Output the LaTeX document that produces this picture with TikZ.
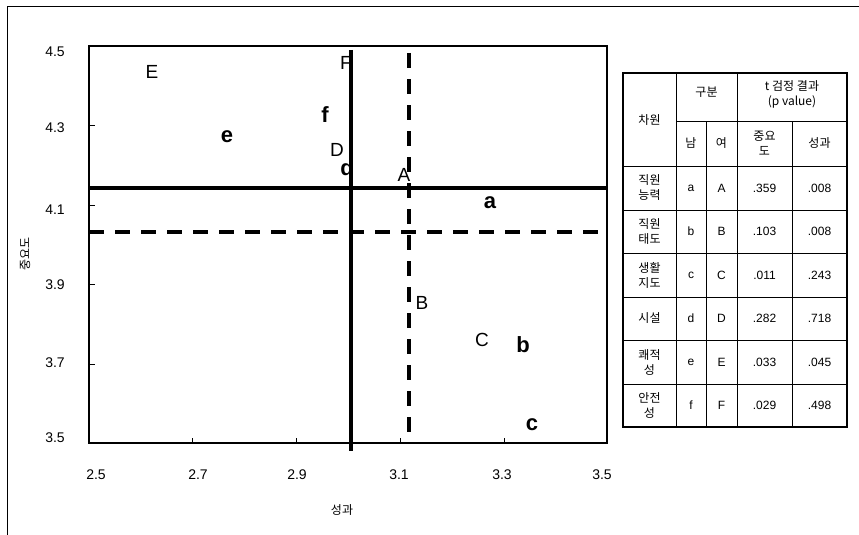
\documentclass[tikz,border=0pt]{standalone}
\usepackage{fontspec}
\setmainfont{Liberation Sans}
\newfontfamily\kr{Noto Sans CJK KR}
\usepackage{xcolor}
\usepackage{tikz}

\tikzset{
	ptup/.style={inner sep=0pt, font=\fontsize{19}{19}\selectfont},
	ptlow/.style={inner sep=0pt, font=\fontsize{22}{22}\selectfont\bfseries},
	ticklbl/.style={inner sep=0pt, font=\fontsize{14}{14}\selectfont},
	cell/.style={inner sep=0pt, align=center, font=\fontsize{12}{14}\selectfont},
	krcell/.style={inner sep=0pt, align=center, font=\kr\fontsize{12}{15}\selectfont},
	refline/.style={draw=black, line width=4pt},
	refdash/.style={draw=black, line width=4pt, dash pattern=on 15pt off 11pt},
}

\begin{document}
\begin{tikzpicture}[x=1pt, y=-1pt]
	\useasboundingbox (0,0) rectangle (859,535);
	\draw[draw=black, thin, solid] (7,535) -- (7,6) -- (859,6);
	% plot frame and ticks
	\draw[draw=black, line width=1.5pt, solid] (89,46) rectangle (607,443);
	\draw[draw=black, thin, solid] (89,125) -- (95,125);
	\draw[draw=black, thin, solid] (89,205) -- (95,205);
	\draw[draw=black, thin, solid] (89,284) -- (95,284);
	\draw[draw=black, thin, solid] (89,364) -- (95,364);
	\draw[draw=black, thin, solid] (192,443) -- (192,438);
	\draw[draw=black, thin, solid] (296,443) -- (296,438);
	\draw[draw=black, thin, solid] (400,443) -- (400,438);
	\draw[draw=black, thin, solid] (504,443) -- (504,438);
	\node[ticklbl] (y45) at (55,52) {4.5};
	\node[ticklbl] (y43) at (55,128) {4.3};
	\node[ticklbl] (y41) at (55,210) {4.1};
	\node[ticklbl] (y39) at (55,285) {3.9};
	\node[ticklbl] (y37) at (55,363) {3.7};
	\node[ticklbl] (y35) at (55,438) {3.5};
	\node[ticklbl] (x25) at (96,475) {2.5};
	\node[ticklbl] (x27) at (198,475) {2.7};
	\node[ticklbl] (x29) at (297,475) {2.9};
	\node[ticklbl] (x31) at (399,475) {3.1};
	\node[ticklbl] (x33) at (502,475) {3.3};
	\node[ticklbl] (x35) at (602,475) {3.5};
	\node[krcell] (xtitle) at (342,510) {성과};
	\node[krcell, rotate=90] (ytitle) at (25,254) {중요도};
	% points
	\node[ptup] (pE) at (152,72) {E};
	\node[ptlow] (pe) at (227,137) {e};
	\node[ptup] (pF) at (346,63) {F};
	\node[ptlow] (pf) at (325,115) {f};
	\node[ptup] (pD) at (337,150) {D};
	\node[ptlow] (pd) at (347,168) {d};
	\node[ptup] (pA) at (404,175) {A};
	\node[ptlow] (pa) at (490,203) {a};
	\node[ptup] (pB) at (422,303) {B};
	\node[ptup] (pC) at (482,340) {C};
	\node[ptlow] (pb) at (523,345) {b};
	\node[ptlow] (pc) at (532,425) {c};
	% mean lines
	\draw[refline] (351,50) -- (351,451);
	\draw[refline] (89,188) -- (608,188);
	\draw[refdash] (409,53) -- (409,437);
	\draw[refdash] (89,232) -- (600,232);
	% table
	\draw[draw=black, line width=1.5pt, solid] (623,73) rectangle (847,427);
	\draw[draw=black, thin, solid] (676,73) -- (676,427);
	\draw[draw=black, thin, solid] (737,73) -- (737,427);
	\draw[draw=black, thin, solid] (706,121) -- (706,427);
	\draw[draw=black, thin, solid] (792,121) -- (792,427);
	\draw[draw=black, thin, solid] (676,121) -- (847,121);
	\draw[draw=black, thin, solid] (623,166) -- (847,166);
	\draw[draw=black, thin, solid] (623,210) -- (847,210);
	\draw[draw=black, thin, solid] (623,253) -- (847,253);
	\draw[draw=black, thin, solid] (623,297) -- (847,297);
	\draw[draw=black, thin, solid] (623,340) -- (847,340);
	\draw[draw=black, thin, solid] (623,384) -- (847,384);
	\node[krcell] (hdim) at (649.5,120) {차원};
	\node[krcell] (hgrp) at (706.5,92) {구분};
	\node[krcell] (htest) at (792,94) {t 검정 결과\\(p value)};
	\node[krcell] (hman) at (691,143) {남};
	\node[krcell] (hwoman) at (721.5,143) {여};
	\node[krcell] (himp) at (764.5,143) {중요\\도};
	\node[krcell] (hperf) at (819.5,143) {성과};
	\node[krcell] (r1) at (649.5,188) {직원\\능력};
	\node[cell] (r1m) at (691,188) {a};
	\node[cell] (r1w) at (721.5,188) {A};
	\node[cell] (r1i) at (764.5,188) {.359};
	\node[cell] (r1p) at (819.5,188) {.008};
	\node[krcell] (r2) at (649.5,231.5) {직원\\태도};
	\node[cell] (r2m) at (691,231.5) {b};
	\node[cell] (r2w) at (721.5,231.5) {B};
	\node[cell] (r2i) at (764.5,231.5) {.103};
	\node[cell] (r2p) at (819.5,231.5) {.008};
	\node[krcell] (r3) at (649.5,275) {생활\\지도};
	\node[cell] (r3m) at (691,275) {c};
	\node[cell] (r3w) at (721.5,275) {C};
	\node[cell] (r3i) at (764.5,275) {.011};
	\node[cell] (r3p) at (819.5,275) {.243};
	\node[krcell] (r4) at (649.5,318.5) {시설};
	\node[cell] (r4m) at (691,318.5) {d};
	\node[cell] (r4w) at (721.5,318.5) {D};
	\node[cell] (r4i) at (764.5,318.5) {.282};
	\node[cell] (r4p) at (819.5,318.5) {.718};
	\node[krcell] (r5) at (649.5,362) {쾌적\\성};
	\node[cell] (r5m) at (691,362) {e};
	\node[cell] (r5w) at (721.5,362) {E};
	\node[cell] (r5i) at (764.5,362) {.033};
	\node[cell] (r5p) at (819.5,362) {.045};
	\node[krcell] (r6) at (649.5,405.5) {안전\\성};
	\node[cell] (r6m) at (691,405.5) {f};
	\node[cell] (r6w) at (721.5,405.5) {F};
	\node[cell] (r6i) at (764.5,405.5) {.029};
	\node[cell] (r6p) at (819.5,405.5) {.498};
\end{tikzpicture}
\end{document}
